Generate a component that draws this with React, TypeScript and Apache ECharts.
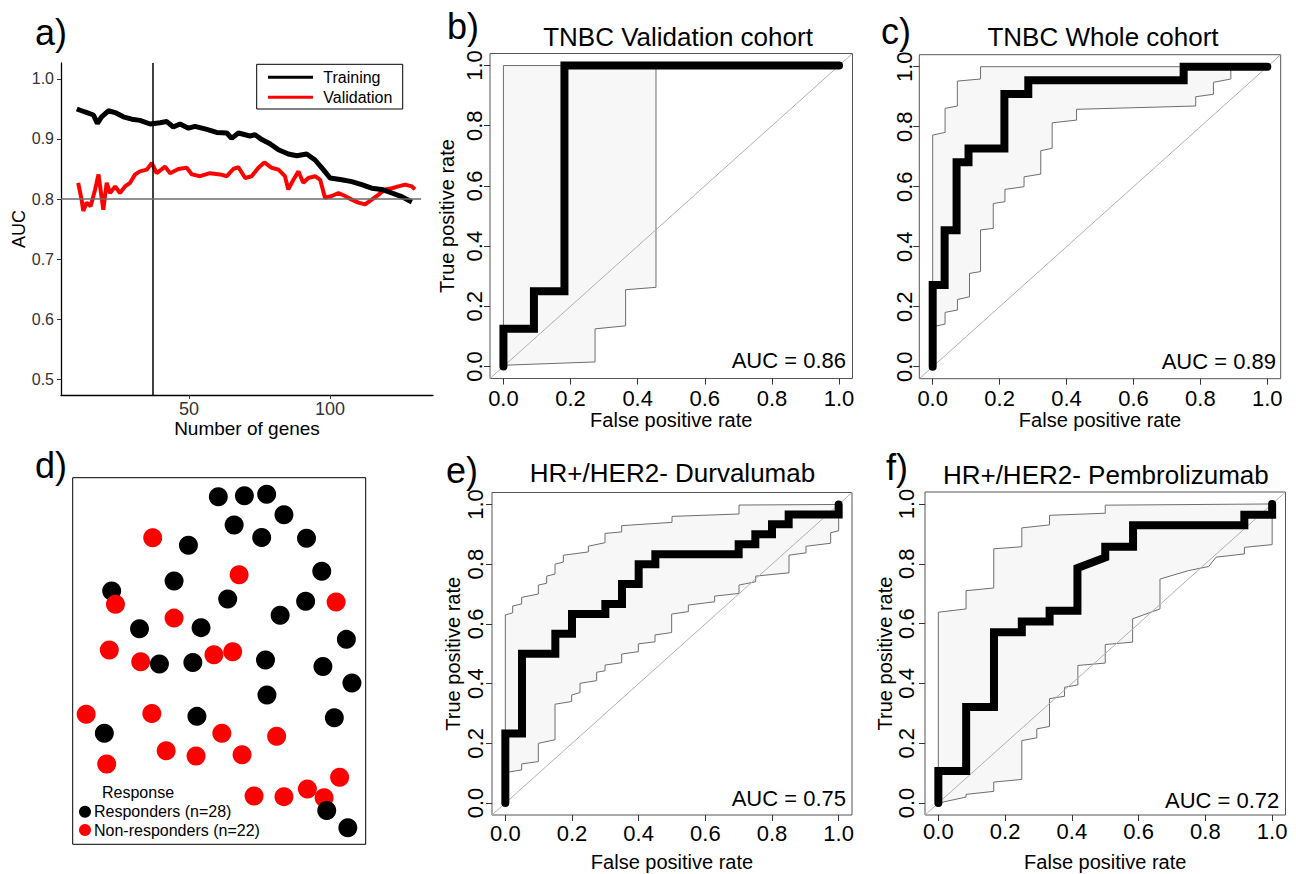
import { useEffect, useRef } from 'react';
import * as echarts from 'echarts';

const FONT = '"Liberation Sans", Arial, Helvetica, sans-serif';

// ---------- Panel a: AUC vs number of genes ----------
const trainX = [10.2, 13.1, 16.1, 17.5, 19.0, 21.4, 23.8, 26.7, 29.7, 32.6, 36.2, 39.7, 42.1, 44.4, 46.8, 49.8, 52.1, 56.3, 59.8, 63.4, 65.1, 67.5, 71.6, 73.4, 75.8, 78.7, 81.7, 85.2, 88.2, 91.7, 94.7, 97.6, 100, 104.1, 107.7, 111.2, 114.8, 118.3, 121.9, 125.4, 129];
const trainY = [0.95, 0.945, 0.94, 0.926, 0.937, 0.947, 0.944, 0.937, 0.933, 0.931, 0.925, 0.927, 0.929, 0.92, 0.925, 0.918, 0.921, 0.916, 0.911, 0.91, 0.901, 0.91, 0.905, 0.907, 0.899, 0.892, 0.882, 0.875, 0.872, 0.875, 0.865, 0.849, 0.835, 0.832, 0.829, 0.824, 0.818, 0.816, 0.81, 0.804, 0.795];
const validX = [10.7, 11.9, 12.5, 13.7, 15.1, 16.7, 17.9, 19.6, 20.8, 22.0, 23.8, 25.5, 27.3, 29.1, 30.9, 32.6, 35.0, 36.8, 38.5, 41.5, 43.3, 46.2, 49.2, 51.0, 53.9, 57.4, 61.0, 63.4, 65.7, 67.5, 69.9, 72.2, 74.6, 76.7, 79.3, 81.7, 84.0, 85.2, 87.0, 88.8, 90.5, 92.3, 94.7, 96.5, 98.2, 100.6, 103.0, 105.3, 107.7, 110.0, 112.4, 114.8, 117.1, 119.5, 121.9, 124.2, 126.6, 129.0, 130.1];
const validY = [0.827, 0.799, 0.78, 0.794, 0.788, 0.816, 0.841, 0.782, 0.827, 0.81, 0.821, 0.81, 0.821, 0.827, 0.841, 0.846, 0.849, 0.86, 0.843, 0.854, 0.843, 0.85, 0.852, 0.841, 0.838, 0.843, 0.841, 0.838, 0.85, 0.853, 0.835, 0.838, 0.852, 0.861, 0.852, 0.849, 0.838, 0.816, 0.832, 0.846, 0.827, 0.835, 0.838, 0.832, 0.802, 0.805, 0.81, 0.805, 0.799, 0.794, 0.791, 0.799, 0.807, 0.816, 0.818, 0.821, 0.824, 0.821, 0.816];
const cutoffGenes = 37;
const aucThreshold = 0.8;
const geneTicks = [50, 100];
const aucTicks = [0.5, 0.6, 0.7, 0.8, 0.9, 1.0];

// ---------- ROC panels ----------
const rocTicks = [0, 0.2, 0.4, 0.6, 0.8, 1.0];
const diagLine = [[-0.04, -0.04], [1.04, 1.04]];

const rocB = [[0, 0], [0, 0.125], [0.0909, 0.125], [0.0909, 0.25], [0.1818, 0.25], [0.1818, 1], [1, 1]];
const upperB = [[0, 0.004], [0, 1], [0.4545, 1], [0.4545, 0.263]];
const lowerB = [[0, 0.004], [0.273, 0.015], [0.273, 0.125], [0.364, 0.135], [0.364, 0.255], [0.4545, 0.263]];

const rocC = [[0, 0], [0, 0.2727], [0.0357, 0.2727], [0.0357, 0.4545], [0.0714, 0.4545], [0.0714, 0.6818], [0.1071, 0.6818], [0.1071, 0.7273], [0.2143, 0.7273], [0.2143, 0.9091], [0.2857, 0.9091], [0.2857, 0.9545], [0.75, 0.9545], [0.75, 1], [1, 1]];
const upperC = [[0, 0.133], [0, 0.772], [0.037, 0.781], [0.037, 0.861], [0.0737, 0.869], [0.0737, 0.952], [0.143, 0.959], [0.143, 1], [0.891, 1]];
const lowerC = [[0, 0.133], [0.037, 0.142], [0.037, 0.181], [0.074, 0.189], [0.074, 0.224], [0.11, 0.233], [0.11, 0.311], [0.143, 0.317], [0.143, 0.456], [0.181, 0.461], [0.181, 0.544], [0.216, 0.55], [0.216, 0.591], [0.273, 0.6], [0.273, 0.633], [0.323, 0.642], [0.323, 0.72], [0.357, 0.728], [0.357, 0.813], [0.43, 0.822], [0.43, 0.858], [0.786, 0.869], [0.786, 0.9], [0.839, 0.908], [0.839, 0.948], [0.891, 0.959], [0.891, 1]];

const rocE = [[0, 0], [0, 0.2333], [0.05, 0.2333], [0.05, 0.5], [0.15, 0.5], [0.15, 0.5667], [0.2, 0.5667], [0.2, 0.6333], [0.3, 0.6333], [0.3, 0.6667], [0.35, 0.6667], [0.35, 0.7333], [0.4, 0.7333], [0.4, 0.8], [0.45, 0.8], [0.45, 0.8333], [0.7, 0.8333], [0.7, 0.8667], [0.75, 0.8667], [0.75, 0.9], [0.8, 0.9], [0.8, 0.9333], [0.85, 0.9333], [0.85, 0.9667], [1, 0.9667], [1, 1]];
const upperE = [[0, 0.102], [0, 0.63], [0.022, 0.637], [0.022, 0.66], [0.049, 0.667], [0.049, 0.689], [0.099, 0.7], [0.099, 0.73], [0.124, 0.736], [0.124, 0.76], [0.149, 0.767], [0.149, 0.8], [0.174, 0.807], [0.174, 0.83], [0.249, 0.841], [0.249, 0.86], [0.299, 0.872], [0.299, 0.903], [0.349, 0.908], [0.349, 0.929], [0.5, 0.94], [0.5, 0.96], [0.701, 0.968], [0.701, 0.998], [1, 1]];
const lowerE = [[0, 0.102], [0.049, 0.111], [0.049, 0.131], [0.099, 0.139], [0.099, 0.2], [0.149, 0.212], [0.149, 0.331], [0.199, 0.34], [0.199, 0.362], [0.224, 0.37], [0.224, 0.401], [0.274, 0.41], [0.274, 0.438], [0.299, 0.443], [0.299, 0.462], [0.349, 0.47], [0.349, 0.499], [0.399, 0.507], [0.399, 0.533], [0.449, 0.54], [0.449, 0.563], [0.499, 0.571], [0.499, 0.633], [0.549, 0.641], [0.549, 0.663], [0.628, 0.674], [0.628, 0.693], [0.701, 0.702], [0.701, 0.73], [0.751, 0.741], [0.751, 0.76], [0.851, 0.771], [0.851, 0.83], [0.902, 0.838], [0.902, 0.86], [0.976, 0.87], [0.976, 0.905], [1, 0.912], [1, 1]];

const rocF = [[0, 0], [0, 0.1071], [0.0833, 0.1071], [0.0833, 0.3214], [0.1667, 0.3214], [0.1667, 0.5714], [0.25, 0.5714], [0.25, 0.6071], [0.3333, 0.6071], [0.3333, 0.6429], [0.4167, 0.6429], [0.4167, 0.7857], [0.5, 0.8214], [0.5, 0.8571], [0.5833, 0.8571], [0.5833, 0.9286], [0.9167, 0.9286], [0.9167, 0.9643], [1, 0.9643], [1, 1]];
const upperF = [[0, 0], [0, 0.638], [0.083, 0.649], [0.083, 0.71], [0.166, 0.719], [0.166, 0.85], [0.25, 0.857], [0.25, 0.92], [0.333, 0.93], [0.333, 0.962], [0.5, 0.969], [0.5, 0.996], [1, 1]];
const lowerF = [[0, 0], [0.083, 0.02], [0.083, 0.029], [0.166, 0.039], [0.166, 0.07], [0.25, 0.079], [0.25, 0.209], [0.295, 0.218], [0.295, 0.248], [0.333, 0.256], [0.333, 0.349], [0.378, 0.357], [0.378, 0.387], [0.418, 0.395], [0.418, 0.46], [0.5, 0.468], [0.5, 0.53], [0.582, 0.538], [0.582, 0.616], [0.664, 0.649], [0.664, 0.749], [0.749, 0.777], [0.81, 0.791], [0.832, 0.822], [0.917, 0.833], [0.917, 0.855], [1, 0.864], [1, 1]];

// ---------- Panel d: sample map ----------
const respX = [49.7, 58.6, 66.2, 72.1, 55.1, 64.5, 79.8, 39.5, 85.0, 34.6, 13.3, 52.9, 79.5, 70.8, 22.8, 43.8, 93.4, 29.6, 41.0, 65.8, 85.4, 95.3, 66.3, 42.4, 89.3, 10.8, 86.7, 93.9];
const respY = [94.8, 95.1, 95.5, 89.9, 87.1, 83.7, 83.5, 81.6, 74.5, 71.8, 69.1, 66.9, 66.3, 62.5, 58.8, 59.1, 55.9, 49.2, 49.6, 50.3, 48.5, 44.0, 40.7, 34.9, 34.5, 30.3, 9.2, 4.5];
const nonX = [27.3, 56.8, 14.6, 34.6, 89.9, 12.5, 23.2, 48.2, 54.6, 4.6, 27.0, 50.9, 69.6, 31.9, 42.1, 57.8, 11.6, 91.1, 61.9, 72.1, 80.1, 85.8];
const nonY = [83.6, 73.5, 65.5, 61.7, 66.1, 53.0, 49.8, 51.7, 52.5, 35.5, 35.7, 30.3, 29.5, 25.5, 24.1, 24.4, 21.9, 18.3, 13.2, 13.0, 15.1, 12.7];
const respLabel = 'Responders (n=28)';
const nonLabel = 'Non-responders (n=22)';

const RED = '#ff0000';

function buildOption() {
  const grids: any[] = [
    { left: 61, top: 63, width: 372, height: 332 }, // a
    { left: 490, top: 53.5, width: 362.5, height: 325 }, // b
    { left: 919.3, top: 54.7, width: 361.4, height: 324 }, // c
    { left: 72.7, top: 477.7, width: 293, height: 366.6, show: true, borderColor: '#000', borderWidth: 1 }, // d
    { left: 492, top: 492.5, width: 360, height: 322.5 }, // e
    { left: 925, top: 492, width: 360.5, height: 323 }, // f
  ];
  const xAxes: any[] = [];
  const yAxes: any[] = [];
  const series: any[] = [];
  const graphic: any[] = [];

  // ---- panel a axes
  xAxes.push({
    type: 'value', gridIndex: 0, min: 4.6, max: 136.5,
    axisLine: { show: true, onZero: false, lineStyle: { color: '#000', width: 1.3 } },
    axisTick: { show: true, customValues: geneTicks, length: 4, lineStyle: { color: '#333' } },
    axisLabel: { customValues: geneTicks, fontSize: 18, color: '#333', margin: 5, fontFamily: FONT },
    splitLine: { show: false },
    name: 'Number of genes', nameLocation: 'middle', nameGap: 22, nameTextStyle: { fontSize: 19, color: '#000', fontFamily: FONT },
  });
  yAxes.push({
    type: 'value', gridIndex: 0, min: 0.4735, max: 1.0266,
    axisLine: { show: true, onZero: false, lineStyle: { color: '#000', width: 1.3 } },
    axisTick: { show: true, customValues: aucTicks, length: 4, lineStyle: { color: '#333' } },
    axisLabel: { customValues: aucTicks, formatter: (v: number) => v.toFixed(1), fontSize: 16, color: '#333', margin: 7, fontFamily: FONT },
    splitLine: { show: false },
    name: 'AUC', nameLocation: 'middle', nameGap: 32, nameTextStyle: { fontSize: 18, color: '#000', fontFamily: FONT },
  });
  series.push({
    type: 'line', name: 'Validation', xAxisIndex: 0, yAxisIndex: 0,
    data: validX.map((x, i) => [x, validY[i]]), showSymbol: false, symbol: 'none',
    lineStyle: { color: RED, width: 4 }, z: 2,
  });
  series.push({
    type: 'line', name: 'Training', xAxisIndex: 0, yAxisIndex: 0,
    data: trainX.map((x, i) => [x, trainY[i]]), showSymbol: false, symbol: 'none',
    lineStyle: { color: '#000', width: 5 }, z: 3,
    markLine: {
      silent: true, symbol: ['none', 'none'], label: { show: false }, z: 5,
      data: [
        [{ coord: [cutoffGenes, 0.4735], lineStyle: { color: '#000', width: 1.5, type: 'solid' } }, { coord: [cutoffGenes, 1.0266] }],
        [{ coord: [4.6, aucThreshold], lineStyle: { color: '#6b6b6b', width: 1.5, type: 'solid' } }, { coord: [132.3, aucThreshold] }],
      ],
    },
  });
  // legend for a
  graphic.push({ type: 'rect', shape: { x: 256.7, y: 64.3, width: 146, height: 44.7 }, style: { fill: '#fff', stroke: '#000', lineWidth: 1 }, z: 10 });
  graphic.push({ type: 'line', shape: { x1: 268, y1: 77.3, x2: 313, y2: 77.3 }, style: { stroke: '#000', lineWidth: 3 }, z: 11 });
  graphic.push({ type: 'line', shape: { x1: 268, y1: 97.3, x2: 313, y2: 97.3 }, style: { stroke: RED, lineWidth: 3 }, z: 11 });
  const txt = (text: string, x: number, y: number, size: number, align = 'left', fill = '#000') => ({
    type: 'text', x, y, z: 12,
    style: { text, fontSize: size, fontFamily: FONT, fill, align, verticalAlign: 'middle', textAlign: align, textVerticalAlign: 'middle' },
  });
  graphic.push(txt('Training', 323.3, 77.3, 16));
  graphic.push(txt('Validation', 323.3, 97.3, 16));

  // ---- ROC panels
  const rocPanels = [
    { g: 1, roc: rocB, up: upperB, lo: lowerB, title: 'TNBC Validation cohort', tx: 678, ty: 37, auc: 'AUC = 0.86', ax: 846, ay: 360, yName: true, xm: 9, xg: 29.5, ym: 5, yg: 32.7 },
    { g: 2, roc: rocC, up: upperC, lo: lowerC, title: 'TNBC Whole cohort', tx: 1103, ty: 36.7, auc: 'AUC = 0.89', ax: 1276, ay: 361.7, yName: false, xm: 8.8, xg: 29.6, ym: 4.3, yg: 30 },
    { g: 4, roc: rocE, up: upperE, lo: lowerE, title: 'HR+/HER2- Durvalumab', tx: 672.5, ty: 473, auc: 'AUC = 0.75', ax: 846, ay: 798.3, yName: true, xm: 7.3, xg: 36.7, ym: 6, yg: 27 },
    { g: 5, roc: rocF, up: upperF, lo: lowerF, title: 'HR+/HER2- Pembrolizumab', tx: 1105.8, ty: 475, auc: 'AUC = 0.72', ax: 1279.3, ay: 800, yName: true, xm: 5.7, xg: 36.7, ym: 7.3, yg: 26.7 },
  ];

  const rocAxisBase = (gi: number) => ({
    type: 'value', gridIndex: gi, min: -0.04, max: 1.04,
    axisLine: { show: false, onZero: false },
    splitLine: { show: false },
  });

  const axisSlots: any = {};
  rocPanels.forEach((p) => {
    axisSlots[p.g] = {
      x: {
        ...rocAxisBase(p.g),
        axisTick: { show: true, customValues: rocTicks, length: 6, lineStyle: { color: '#333' } },
        axisLabel: { customValues: rocTicks, formatter: (v: number) => v.toFixed(1), fontSize: 22, color: '#000', margin: p.xm, fontFamily: FONT },
        name: 'False positive rate', nameLocation: 'middle', nameGap: p.xg, nameTextStyle: { fontSize: 20, color: '#000', fontFamily: FONT },
      },
      y: {
        ...rocAxisBase(p.g),
        axisTick: { show: true, customValues: rocTicks, length: 6, lineStyle: { color: '#333' } },
        axisLabel: { customValues: rocTicks, rotate: 90, formatter: (v: number) => v.toFixed(1), fontSize: 22, color: '#000', margin: p.ym, fontFamily: FONT },
        name: p.yName ? 'True positive rate' : '', nameLocation: 'middle', nameGap: p.yg, nameTextStyle: { fontSize: 20, color: '#000', fontFamily: FONT },
      },
    };
    grids[p.g] = { ...grids[p.g], show: true, borderColor: '#555', borderWidth: 1 };
  });

  for (let gi = 1; gi < 6; gi++) {
    if (gi === 3) {
      xAxes.push({ type: 'value', gridIndex: 3, min: 0, max: 100, show: false });
      yAxes.push({ type: 'value', gridIndex: 3, min: 0, max: 100, show: false });
    } else {
      xAxes.push(axisSlots[gi].x);
      yAxes.push(axisSlots[gi].y);
    }
  }

  rocPanels.forEach((p) => {
    const poly = [...p.up, ...[...p.lo].reverse()];
    series.push({
      type: 'custom', xAxisIndex: p.g, yAxisIndex: p.g, silent: true, z: 1,
      data: [[0, 0]],
      renderItem: (_params: any, api: any) => ({
        type: 'polygon',
        shape: { points: poly.map((pt) => api.coord(pt)) },
        style: { fill: '#f7f7f7', stroke: '#6e6e6e', lineWidth: 1 },
      }),
    });
    series.push({
      type: 'line', xAxisIndex: p.g, yAxisIndex: p.g, data: diagLine, symbol: 'none', showSymbol: false, silent: true, z: 2,
      lineStyle: { color: '#b0b0b0', width: 1 },
    });
    series.push({
      type: 'line', xAxisIndex: p.g, yAxisIndex: p.g, data: p.roc, symbol: 'none', showSymbol: false, silent: true, z: 3, clip: false,
      lineStyle: { color: '#000', width: 8, cap: 'round', join: 'miter' },
    });
    graphic.push(txt(p.title, p.tx, p.ty, 26, 'center'));
    graphic.push(txt(p.auc, p.ax, p.ay, 22, 'right'));
  });

  // ---- panel d scatter: responders drawn first, non-responders, then the last two responders on top
  const dData: any[] = [];
  for (let i = 0; i < 26; i++) dData.push({ value: [respX[i], respY[i]], itemStyle: { color: '#000', opacity: 1 } });
  for (let i = 0; i < nonX.length; i++) dData.push({ value: [nonX[i], nonY[i]], itemStyle: { color: RED, opacity: 1 } });
  for (let i = 26; i < respX.length; i++) dData.push({ value: [respX[i], respY[i]], itemStyle: { color: '#000', opacity: 1 } });
  series.push({
    type: 'scatter', xAxisIndex: 3, yAxisIndex: 3, data: dData, symbol: 'circle', symbolSize: 19, silent: true, z: 2,
    itemStyle: { opacity: 1 },
  });
  graphic.push(txt('Response', 102, 792.3, 16));
  graphic.push({ type: 'circle', shape: { cx: 85, cy: 811.7, r: 6 }, style: { fill: '#000' }, z: 12 });
  graphic.push({ type: 'circle', shape: { cx: 85, cy: 830, r: 6 }, style: { fill: RED }, z: 12 });
  graphic.push(txt(respLabel, 94, 811.7, 16));
  graphic.push(txt(nonLabel, 94, 830, 16));

  // ---- panel letters
  graphic.push(txt('a)', 35, 32, 36));
  graphic.push(txt('b)', 447, 26, 36));
  graphic.push(txt('c)', 881, 31, 36));
  graphic.push(txt('d)', 35, 465, 36));
  graphic.push(txt('e)', 446, 470, 36));
  graphic.push(txt('f)', 886, 467, 36));

  return {
    animation: false,
    backgroundColor: '#fff',
    textStyle: { fontFamily: FONT },
    grid: grids,
    xAxis: xAxes,
    yAxis: yAxes,
    series,
    graphic,
  };
}

export default function App() {
  const ref = useRef<HTMLDivElement>(null);
  useEffect(() => {
    document.body.style.margin = '0';
    const chart = echarts.init(ref.current!, null, { renderer: 'svg' });
    chart.setOption(buildOption() as any);
    return () => chart.dispose();
  }, []);
  return <div ref={ref} style={{ width: 1296, height: 874, background: '#fff' }} />;
}
